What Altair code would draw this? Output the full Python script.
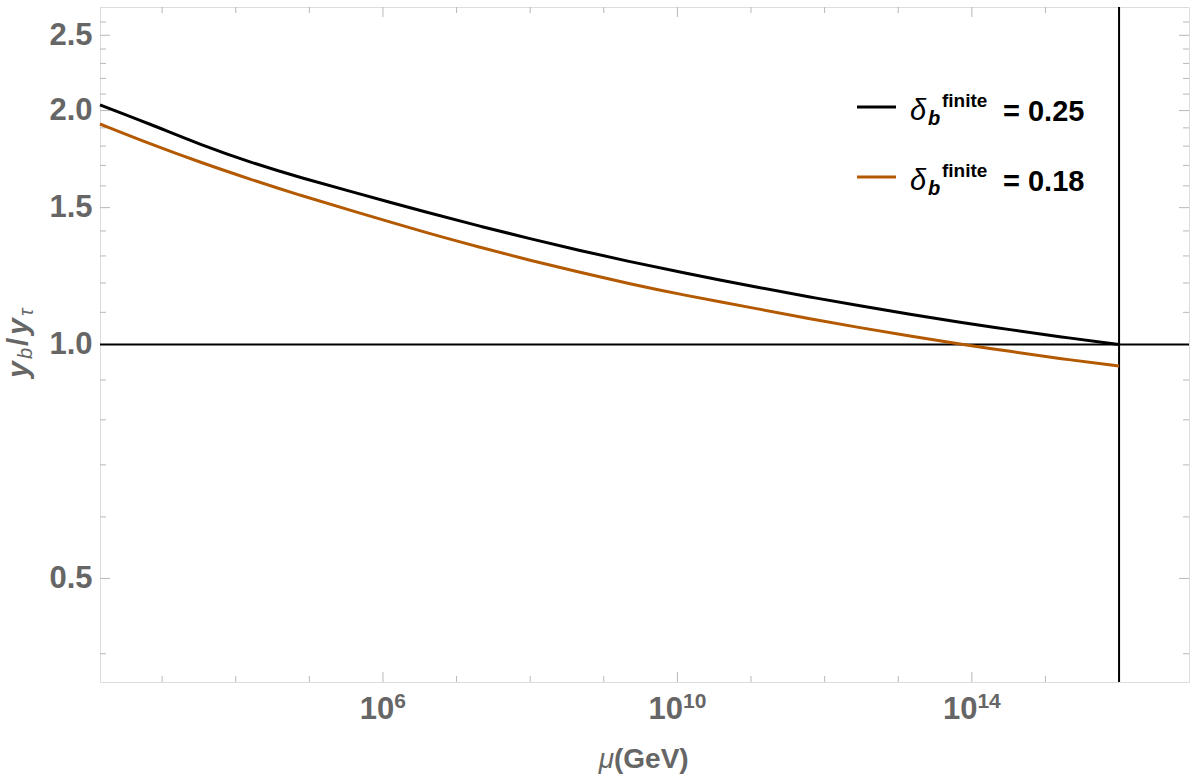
import math
import altair as alt
import pandas as pd

# ---------------- data ----------------
log10_mu = [2.156, 2.835, 3.515, 4.194, 4.873, 5.552, 6.639, 7.318, 7.998, 8.677,
            9.356, 10.035, 11.122, 11.801, 12.481, 13.160, 13.839, 14.518, 15.198, 16.0]
ratio_025 = [2.034, 1.922, 1.808, 1.716, 1.640, 1.575, 1.475, 1.420, 1.368, 1.321,
             1.278, 1.239, 1.183, 1.151, 1.121, 1.094, 1.068, 1.045, 1.023, 1.000]
ratio_018 = [1.922, 1.812, 1.716, 1.632, 1.556, 1.489, 1.388, 1.334, 1.283, 1.238,
             1.197, 1.160, 1.110, 1.079, 1.051, 1.025, 1.001, 0.980, 0.959, 0.938]
series_labels = ["0.25", "0.18"]
series_colors = ["#000000", "#b35900"]

x_major = [1e6, 1e10, 1e14]
x_major_exp = ["6", "10", "14"]
x_minor = [1e3, 1e4, 1e5, 1e7, 1e8, 1e9, 1e11, 1e12, 1e13, 1e15, 1e16]
y_major = [0.5, 1.0, 1.5, 2.0, 2.5]
y_minor = [0.4, 0.6, 0.7, 0.8, 0.9, 1.1, 1.2, 1.3, 1.4, 1.6, 1.7, 1.8, 1.9,
           2.1, 2.2, 2.3, 2.4, 2.6]
ref_ratio = [1.0]
ref_mu = [1e16]

# ---------------- styling ----------------
W, H = 1089, 675
GRAY = "#666666"
TICK = "#b8b8b8"
FONT = "Liberation Sans"

xs = alt.Scale(type="log", domain=[10 ** 2.156, 10 ** 16.95], nice=False)
ys = alt.Scale(type="log", domain=[math.exp(-1), math.e], nice=False)
yax = alt.Axis(values=y_major, format=".1f", ticks=False, domain=False, grid=False,
               title=None, labelFont=FONT, labelFontSize=31, labelFontWeight="bold",
               labelColor=GRAY, labelPadding=8)

rows = []
for lab, vals in zip(series_labels, [ratio_025, ratio_018]):
    for L, r in zip(log10_mu, vals):
        rows.append({"mu": 10 ** L, "ratio": r, "delta": lab})
curves = pd.DataFrame(rows)

layers = []

# tick marks (inside the frame, all four sides)
def xticks(vals, length):
    df = pd.DataFrame({"v": vals})
    base = alt.Chart(df).mark_rule(color=TICK, strokeWidth=1)
    return [
        base.encode(x=alt.X("v:Q", scale=xs, axis=None), y=alt.value(H), y2=alt.value(H - length)),
        base.encode(x=alt.X("v:Q", scale=xs, axis=None), y=alt.value(0), y2=alt.value(length)),
    ]

def yticks(vals, length):
    df = pd.DataFrame({"v": vals})
    base = alt.Chart(df).mark_rule(color=TICK, strokeWidth=1)
    return [
        base.encode(y=alt.Y("v:Q", scale=ys, axis=yax), x=alt.value(0), x2=alt.value(length)),
        base.encode(y=alt.Y("v:Q", scale=ys, axis=yax), x=alt.value(W), x2=alt.value(W - length)),
    ]

layers += xticks(x_minor, 6) + xticks(x_major, 10)
layers += yticks(y_minor, 6) + yticks(y_major, 10)

# reference lines
layers.append(alt.Chart(pd.DataFrame({"v": ref_ratio})).mark_rule(color="black", strokeWidth=2)
              .encode(y=alt.Y("v:Q", scale=ys, axis=yax)))
layers.append(alt.Chart(pd.DataFrame({"v": ref_mu})).mark_rule(color="black", strokeWidth=2)
              .encode(x=alt.X("v:Q", scale=xs, axis=None)))

# curves
layers.append(
    alt.Chart(curves).mark_line(strokeWidth=3, interpolate="basis").encode(
        x=alt.X("mu:Q", scale=xs, axis=None),
        y=alt.Y("ratio:Q", scale=ys, axis=yax),
        color=alt.Color("delta:N", scale=alt.Scale(domain=series_labels, range=series_colors), legend=None),
        order=alt.Order("mu:Q"),
    )
)

# x tick labels 10^n with real superscripts
for v, e in zip(x_major, x_major_exp):
    w10 = 1.112 * 31
    wsup = 0.556 * 21 * len(e)
    d = -(w10 + wsup) / 2 + w10
    df = pd.DataFrame({"v": [v], "base": ["10"], "sup": [e]})
    layers.append(alt.Chart(df).mark_text(font=FONT, fontSize=31, fontWeight="bold", color=GRAY,
                                          align="right", baseline="alphabetic", dx=d)
                  .encode(x=alt.X("v:Q", scale=xs, axis=None), y=alt.value(712), text="base:N"))
    layers.append(alt.Chart(df).mark_text(font=FONT, fontSize=21, fontWeight="bold", color=GRAY,
                                          align="left", baseline="alphabetic", dx=d)
                  .encode(x=alt.X("v:Q", scale=xs, axis=None), y=alt.value(701), text="sup:N"))

def txt(s, x, y, size, weight="normal", style="normal", color=GRAY, align="left", angle=0):
    df = pd.DataFrame({"t": [s]})
    kw = dict(font=FONT, fontSize=size, fontWeight=weight, fontStyle=style, color=color,
              align=align, baseline="alphabetic")
    if angle:
        kw["angle"] = angle
    return alt.Chart(df).mark_text(**kw).encode(x=alt.value(x), y=alt.value(y), text="t:N")

# x title  μ(GeV)
layers.append(txt("μ", 514, 761, 28, style="italic", align="right"))
layers.append(txt("(GeV)", 514, 761, 28, weight="bold"))

# y title  y_b / y_τ (rotated)
layers.append(txt("y", -72, 371, 30, weight="bold", style="italic", angle=270))
layers.append(txt("b", -68, 352, 20, style="italic", angle=270))
layers.append(txt("/", -72, 339, 30, weight="bold", angle=270))
layers.append(txt("y", -72, 328, 30, weight="bold", style="italic", angle=270))
layers.append(txt("τ", -67, 309, 20, style="italic", angle=270))

# legend
for i, (lab, col) in enumerate(zip(series_labels, series_colors)):
    off = 70 * i
    layers.append(alt.Chart(pd.DataFrame({"t": [lab]})).mark_rule(color=col, strokeWidth=3)
                  .encode(x=alt.value(757), x2=alt.value(796), y=alt.value(100 + off)))
    layers.append(txt("δ", 810, 113 + off, 29, style="italic", color="black"))
    layers.append(txt("b", 828, 118 + off, 20, weight="bold", style="italic", color="black"))
    layers.append(txt("finite", 842, 100 + off, 19, weight="bold", color="black"))
    layers.append(txt("= " + lab, 903, 114 + off, 29, weight="bold", color="black"))

chart = (
    alt.layer(*layers)
    .properties(width=W, height=H, autosize=alt.AutoSizeParams(type="none"),
                padding={"left": 100, "top": 7, "right": 11, "bottom": 96})
    .configure_view(stroke="#999999", strokeWidth=1)
    .configure(background="white")
)

chart.save("out.html", embed_options={"renderer": "svg", "actions": False})
